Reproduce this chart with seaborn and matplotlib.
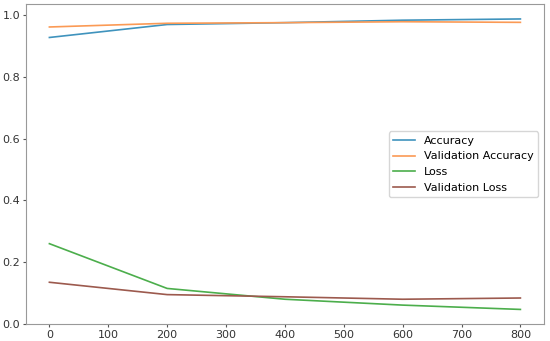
import pandas as pd
import matplotlib
matplotlib.use("Agg")
import matplotlib.pyplot as plt
import seaborn as sns

epochs = [0, 200, 400, 600, 800]
accuracy = [0.928, 0.970, 0.976, 0.984, 0.988]
val_accuracy = [0.962, 0.974, 0.976, 0.979, 0.977]
loss = [0.260, 0.115, 0.080, 0.061, 0.047]
val_loss = [0.135, 0.095, 0.088, 0.080, 0.084]
series_names = ["Accuracy", "Validation Accuracy", "Loss", "Validation Loss"]
colors = ["#3f93bd", "#fb9a55", "#4cae4c", "#9c5a4e"]


def build_frame():
    rows = []
    for name, vals in zip(series_names, [accuracy, val_accuracy, loss, val_loss]):
        for e, v in zip(epochs, vals):
            rows.append({"epoch": e, "value": v, "metric": name})
    return pd.DataFrame(rows)


def main():
    df = build_frame()
    fig, ax = plt.subplots(figsize=(5.5, 3.41), dpi=100)
    sns.lineplot(data=df, x="epoch", y="value", hue="metric",
                 hue_order=series_names, palette=colors, linewidth=1.2, ax=ax)
    ax.set_xlabel("")
    ax.set_ylabel("")
    ax.set_xticks(range(0, 801, 100))
    ax.set_yticks([0.0, 0.2, 0.4, 0.6, 0.8, 1.0])
    ax.tick_params(labelsize=8, length=2.5, pad=1.5,
                   color="#555555", labelcolor="#333333")
    for s in ax.spines.values():
        s.set_color("#999999")
    ax.legend(title=None, fontsize=8, loc="center right")
    fig.subplots_adjust(left=0.047, right=0.989, top=0.987, bottom=0.05)
    fig.savefig("out.png", dpi=100)


if __name__ == "__main__":
    main()
